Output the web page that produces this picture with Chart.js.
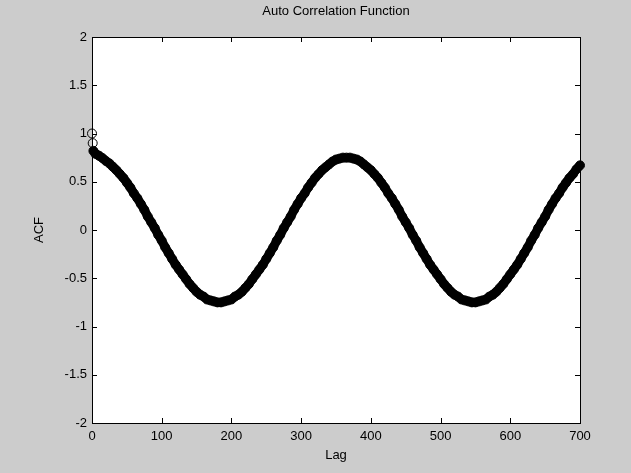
<!DOCTYPE html>
<html>
<head>
<meta charset="utf-8">
<script src="https://cdn.jsdelivr.net/npm/chart.js@4.4.1/dist/chart.umd.min.js"></script>
<style>
  html,body{margin:0;padding:0;background:#cccccc;}
  #wrap{width:631px;height:473px;}
</style>
</head>
<body>
<div id="wrap"><canvas id="acf" width="631" height="473"></canvas></div>
<script>
// lag values (first three single steps, then every 5 lags)
const lags = [0,1,2,
  5,10,15,20,25,30,35,40,45,50,55,60,65,70,75,80,85,90,95,100,
  105,110,115,120,125,130,135,140,145,150,155,160,165,170,175,180,185,190,195,200,
  205,210,215,220,225,230,235,240,245,250,255,260,265,270,275,280,285,290,295,300,
  305,310,315,320,325,330,335,340,345,350,355,360,365,370,375,380,385,390,395,400,
  405,410,415,420,425,430,435,440,445,450,455,460,465,470,475,480,485,490,495,500,
  505,510,515,520,525,530,535,540,545,550,555,560,565,570,575,580,585,590,595,600,
  605,610,615,620,625,630,635,640,645,650,655,660,665,670,675,680,685,690,695,700];
const acf = [1.00,0.90,0.82,
  0.79,0.77,0.745,0.715,0.69,0.655,0.62,0.58,0.54,0.49,0.44,0.38,0.33,0.27,0.21,0.14,0.08,0.02,-0.05,-0.11,
  -0.18,-0.24,-0.30,-0.36,-0.41,-0.46,-0.51,-0.56,-0.60,-0.64,-0.67,-0.69,-0.72,-0.73,-0.74,-0.75,-0.75,-0.74,-0.73,-0.72,
  -0.69,-0.67,-0.64,-0.60,-0.56,-0.51,-0.46,-0.41,-0.36,-0.30,-0.24,-0.18,-0.11,-0.05,0.02,0.08,0.14,0.21,0.27,0.33,
  0.38,0.44,0.49,0.54,0.58,0.62,0.65,0.68,0.71,0.73,0.74,0.75,0.75,0.75,0.74,0.73,0.71,0.68,0.65,0.62,
  0.58,0.54,0.49,0.44,0.38,0.33,0.27,0.21,0.14,0.08,0.02,-0.05,-0.11,-0.18,-0.24,-0.30,-0.36,-0.41,-0.46,-0.51,
  -0.56,-0.60,-0.64,-0.67,-0.69,-0.72,-0.73,-0.74,-0.75,-0.75,-0.74,-0.73,-0.72,-0.69,-0.67,-0.64,-0.60,-0.56,-0.51,-0.46,
  -0.41,-0.36,-0.30,-0.24,-0.18,-0.11,-0.05,0.02,0.08,0.14,0.21,0.27,0.33,0.38,0.44,0.49,0.54,0.58,0.63,0.67];
const xTicks = [0,100,200,300,400,500,600,700];
const yTicks = [-2,-1.5,-1,-0.5,0,0.5,1,1.5,2];

const pts = lags.map((l,i)=>({x:l,y:acf[i]}));
const FONT = {family:'"Liberation Sans", Arial, sans-serif', size:13, weight:'normal'};

// white plot area, box and inward ticks like a matlab axes
const boxPlugin = {
  id:'box',
  beforeDraw(chart){
    const {ctx,chartArea:a}=chart;
    ctx.save(); ctx.fillStyle='#ffffff';
    ctx.fillRect(a.left,a.top,a.right-a.left,a.bottom-a.top); ctx.restore();
  },
  beforeDatasetsDraw(chart){
    const {ctx,chartArea:a,scales}=chart;
    ctx.save(); ctx.strokeStyle='#000'; ctx.lineWidth=1;
    ctx.strokeRect(Math.round(a.left)+0.5,Math.round(a.top)+0.5,Math.round(a.right-a.left),Math.round(a.bottom-a.top));
    ctx.beginPath();
    xTicks.forEach(v=>{
      const px=Math.round(scales.x.getPixelForValue(v))+0.5;
      ctx.moveTo(px,a.bottom); ctx.lineTo(px,a.bottom-5);
      ctx.moveTo(px,a.top); ctx.lineTo(px,a.top+5);
    });
    yTicks.forEach(v=>{
      const py=Math.round(scales.y.getPixelForValue(v))+0.5;
      ctx.moveTo(a.left,py); ctx.lineTo(a.left+5,py);
      ctx.moveTo(a.right,py); ctx.lineTo(a.right-5,py);
    });
    ctx.stroke(); ctx.restore();
  }
};

new Chart(document.getElementById('acf'),{
  type:'scatter',
  data:{datasets:[
    {data:pts.slice(0,2),showLine:false,pointStyle:'circle',pointRadius:4.5,
     pointBorderColor:'#000',pointBackgroundColor:'rgba(0,0,0,0)',pointBorderWidth:1,clip:false},
    {data:pts.slice(2),showLine:true,borderColor:'#000',borderWidth:9,tension:0,borderCapStyle:'round',
     pointStyle:'circle',pointRadius:4.5,pointBorderColor:'#000',pointBackgroundColor:'rgba(0,0,0,0)',
     pointBorderWidth:1,clip:false}
  ]},
  options:{
    responsive:false,animation:false,
    layout:{padding:{left:0,right:51,top:0,bottom:0}},
    plugins:{legend:{display:false},tooltip:{enabled:false},title:{display:false}},
    scales:{
      x:{type:'linear',min:0,max:700,
        afterBuildTicks(s){s.ticks=xTicks.map(v=>({value:v}));},
        afterFit(s){s.height=50;},
        grid:{display:false,drawTicks:false},border:{display:false},
        ticks:{color:'#000',font:FONT,padding:6,maxRotation:0,callback:v=>String(v)},
        title:{display:true,text:'Lag',color:'#000',font:FONT,padding:{top:0,bottom:10}}},
      top:{type:'linear',position:'top',min:0,max:700,
        afterFit(s){s.height=37;},
        grid:{display:false,drawTicks:false},border:{display:false},
        ticks:{display:false},
        title:{display:true,text:'Auto Correlation Function',color:'#000',font:FONT,padding:{top:4,bottom:0}}},
      y:{type:'linear',min:-2,max:2,
        afterBuildTicks(s){s.ticks=yTicks.map(v=>({value:v}));},
        afterFit(s){s.width=92;},
        grid:{display:false,drawTicks:false},border:{display:false},
        ticks:{color:'#000',font:FONT,padding:5,callback:v=>String(v)},
        title:{display:true,text:'ACF',color:'#000',font:FONT,padding:{top:32,bottom:0}}}
    }
  },
  plugins:[boxPlugin]
});
</script>
</body>
</html>
